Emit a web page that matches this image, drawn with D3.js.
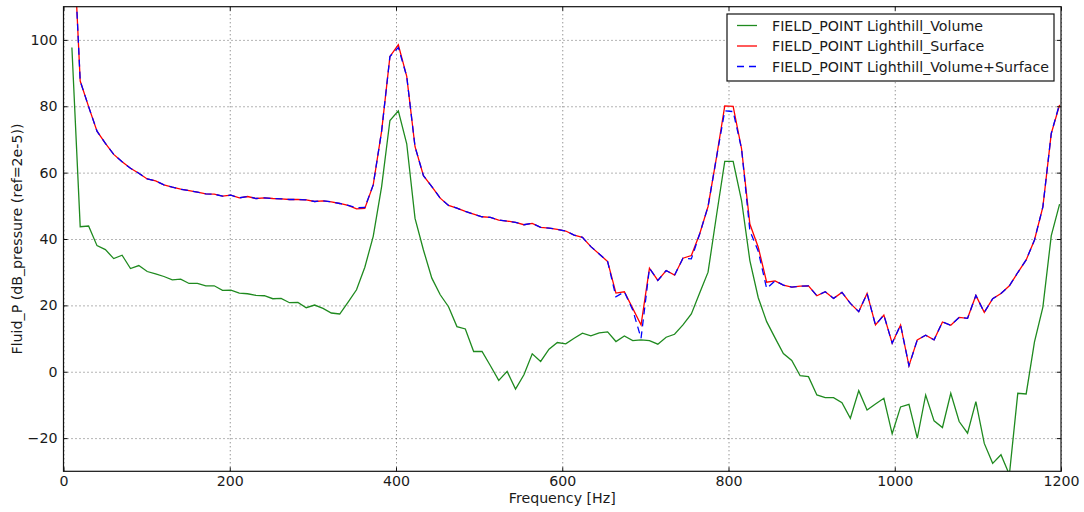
<!DOCTYPE html>
<html>
<head>
<meta charset="utf-8">
<script src="https://cdn.jsdelivr.net/npm/d3@7/dist/d3.min.js"></script>
<style>
  body { margin: 0; background: #ffffff; }
  text { font-family: "DejaVu Sans", sans-serif; fill: #1a1a1a; }
</style>
</head>
<body>
<div class="board"></div>
<script>
/*
=================================
DATA
=================================
*/
var frequency = [
  10.1, 20.1, 30.2, 40.3, 50.4, 60.4, 70.5, 80.6, 90.6, 100.7,
  110.8, 120.8, 130.9, 141.0, 151.1, 161.1, 171.2, 181.3, 191.3, 201.4,
  211.5, 221.5, 231.6, 241.7, 251.8, 261.8, 271.9, 282.0, 292.0, 302.1,
  312.2, 322.2, 332.3, 342.4, 352.5, 362.5, 372.6, 382.7, 392.7, 402.8,
  412.9, 422.9, 433.0, 443.1, 453.2, 463.2, 473.3, 483.4, 493.4, 503.5,
  513.6, 523.6, 533.7, 543.8, 553.9, 563.9, 574.0, 584.1, 594.1, 604.2,
  614.3, 624.3, 634.4, 644.5, 654.6, 664.6, 674.7, 684.8, 694.8, 704.9,
  715.0, 725.0, 735.1, 745.2, 755.3, 765.3, 775.4, 785.5, 795.5, 805.6,
  815.7, 825.7, 835.8, 845.9, 856.0, 866.0, 876.1, 886.2, 896.2, 906.3,
  916.4, 926.4, 936.5, 946.6, 956.7, 966.7, 976.8, 986.9, 996.9, 1007.0,
  1017.1, 1027.1, 1037.2, 1047.3, 1057.4, 1067.4, 1077.5, 1087.6, 1097.6, 1107.7,
  1117.8, 1127.8, 1137.9, 1148.0, 1158.1, 1168.1, 1178.2, 1188.3, 1198.3
];

var volume = [
  97.7, 43.7, 43.9, 38.0, 36.8, 34.1, 35.1, 31.1, 32.0, 30.2,
  29.5, 28.7, 27.7, 27.9, 26.6, 26.6, 25.9, 25.9, 24.5, 24.6,
  23.7, 23.5, 23.0, 22.9, 22.0, 22.1, 20.8, 20.9, 19.3, 20.1,
  19.1, 17.7, 17.4, 21.0, 24.7, 31.5, 40.8, 55.8, 75.7, 78.6,
  68.7, 46.2, 36.7, 28.2, 23.2, 19.6, 13.6, 12.9, 6.1, 6.1,
  1.8, -2.6, 0.1, -5.2, -0.9, 5.4, 3.1, 6.8, 8.8, 8.4,
  10.1, 11.6, 10.8, 11.7, 12.0, 9.1, 10.8, 9.4, 9.6, 9.4,
  8.3, 10.4, 11.3, 14.1, 17.4, 23.7, 30.0, 47.0, 63.4, 63.4,
  51.6, 33.5, 22.3, 15.1, 10.2, 5.5, 3.4, -1.2, -1.5, -7.0,
  -7.8, -7.8, -9.3, -14.0, -5.7, -11.5, -9.7, -8.0, -18.7, -10.6,
  -9.8, -20.0, -7.0, -14.8, -16.8, -6.5, -15.0, -18.5, -9.0, -21.6,
  -27.6, -25.0, -31.0, -6.5, -6.7, 9.0, 19.5, 41.0, 50.5
];

var surface = [
  141.0, 87.6, 79.9, 72.5, 68.8, 65.5, 63.3, 61.3, 59.8, 58.1,
  57.5, 56.3, 55.6, 55.0, 54.6, 54.1, 53.6, 53.5, 52.9, 53.2,
  52.4, 52.8, 52.2, 52.4, 52.2, 52.1, 51.9, 51.9, 51.8, 51.3,
  51.5, 51.2, 50.7, 50.1, 49.1, 49.2, 56.3, 72.5, 95.0, 98.5,
  89.0, 67.8, 59.1, 55.8, 52.3, 50.1, 49.3, 48.3, 47.5, 46.7,
  46.5, 45.7, 45.4, 45.0, 44.3, 44.7, 43.5, 43.3, 42.9, 42.4,
  41.2, 40.5, 37.7, 35.5, 33.2, 23.7, 24.1, 19.1, 14.1, 31.2,
  27.5, 30.5, 29.1, 34.2, 35.0, 41.5, 49.8, 64.5, 80.1, 80.0,
  67.2, 44.5, 37.5, 27.0, 27.4, 26.1, 25.5, 25.8, 25.9, 22.9,
  24.1, 22.1, 23.9, 20.6, 18.1, 23.6, 14.1, 17.1, 8.6, 14.1,
  1.8, 9.6, 11.0, 9.6, 15.0, 14.0, 16.4, 16.1, 23.0, 17.9,
  22.0, 23.6, 25.9, 29.9, 33.7, 39.7, 49.7, 71.8, 80.4
];

var volumeSurface = [
  141.0, 87.6, 79.9, 72.5, 68.8, 65.5, 63.3, 61.3, 59.8, 58.1,
  57.5, 56.3, 55.6, 55.0, 54.6, 54.1, 53.6, 53.5, 52.9, 53.2,
  52.4, 52.8, 52.2, 52.4, 52.2, 52.1, 51.9, 51.9, 51.8, 51.3,
  51.5, 51.2, 50.7, 50.1, 49.4, 49.5, 56.3, 72.5, 95.0, 97.7,
  89.0, 67.8, 59.1, 55.8, 52.3, 50.1, 49.3, 48.3, 47.5, 46.7,
  46.5, 45.7, 45.4, 45.0, 44.3, 44.7, 43.5, 43.3, 42.9, 42.4,
  41.2, 40.5, 37.7, 35.5, 33.2, 22.6, 24.1, 18.6, 10.1, 31.2,
  27.5, 30.5, 29.1, 34.2, 34.0, 41.5, 49.8, 64.5, 78.6, 78.4,
  67.2, 42.5, 36.3, 25.1, 27.4, 26.1, 25.5, 25.8, 25.9, 22.9,
  24.1, 22.1, 23.9, 20.6, 18.1, 23.6, 14.1, 17.1, 8.6, 14.1,
  1.8, 9.6, 11.0, 9.6, 15.0, 14.0, 16.4, 16.1, 23.0, 17.9,
  22.0, 23.6, 25.9, 29.9, 33.7, 39.7, 49.7, 71.8, 80.8
];

var seriesNames = [
  'FIELD_POINT Lighthill_Volume',
  'FIELD_POINT Lighthill_Surface',
  'FIELD_POINT Lighthill_Volume+Surface'
];
var seriesColors = ['#1f8a1f', '#ff0000', '#0000ff'];
var seriesDash = [null, null, '7,5'];

var xTicks = [0, 200, 400, 600, 800, 1000, 1200];
var yTicks = [-20, 0, 20, 40, 60, 80, 100];

/*
=================================
CREATE BACKGROUND CONTAINER
=================================
*/
var chartWidth = 1084, chartHeight = 512;
var plotLeft = 63.5, plotRight = 1061, plotTop = 6.7, plotBottom = 471.3;
var fontSize = 14.2;

var svg = d3.select('.board').append('svg')
            .attr('width', chartWidth)
            .attr('height', chartHeight);

var x = d3.scaleLinear().domain([0, 1200]).range([plotLeft, plotRight]);
var y = d3.scaleLinear().domain([-30, 110]).range([plotBottom, plotTop]);

var tickFmt = d3.format('d');

svg.append('clipPath').attr('id', 'plot-clip')
   .append('rect')
   .attr('x', plotLeft).attr('y', plotTop)
   .attr('width', plotRight - plotLeft).attr('height', plotBottom - plotTop);

// grid
svg.append('g')
   .attr('transform', 'translate(0,' + plotBottom + ')')
   .call(d3.axisBottom(x).tickValues(xTicks).tickSize(-(plotBottom - plotTop)).tickFormat(''))
   .call(g => g.select('.domain').remove())
   .selectAll('line')
   .attr('stroke', '#444')
   .attr('stroke-width', 0.8)
   .attr('stroke-dasharray', '1,3');

svg.append('g')
   .attr('transform', 'translate(' + plotLeft + ',0)')
   .call(d3.axisLeft(y).tickValues(yTicks).tickSize(-(plotRight - plotLeft)).tickFormat(''))
   .call(g => g.select('.domain').remove())
   .selectAll('line')
   .attr('stroke', '#444')
   .attr('stroke-width', 0.8)
   .attr('stroke-dasharray', '1,3');

/*
=================================
LINES
=================================
*/
var allSeries = [volume, surface, volumeSurface];

var line = d3.line()
             .x((d, i) => x(frequency[i]))
             .y(d => y(d));

var plot = svg.append('g').attr('clip-path', 'url(#plot-clip)');

allSeries.forEach(function(values, s) {
  plot.append('path')
      .datum(values)
      .attr('d', line)
      .attr('fill', 'none')
      .attr('stroke', seriesColors[s])
      .attr('stroke-width', 1.3)
      .attr('stroke-dasharray', seriesDash[s]);
});

/*
=================================
AXES
=================================
*/
svg.append('g')
   .attr('class', 'x-axis')
   .attr('transform', 'translate(0,' + plotBottom + ')')
   .call(d3.axisBottom(x).tickValues(xTicks).tickFormat(tickFmt)
           .tickSizeInner(-4).tickSizeOuter(0).tickPadding(5));

svg.append('g')
   .attr('class', 'y-axis')
   .attr('transform', 'translate(' + plotLeft + ',0)')
   .call(d3.axisLeft(y).tickValues(yTicks).tickFormat(tickFmt)
           .tickSizeInner(-4).tickSizeOuter(0).tickPadding(6));

svg.append('g')
   .attr('transform', 'translate(0,' + plotTop + ')')
   .call(d3.axisTop(x).tickValues(xTicks).tickSizeInner(-4).tickSizeOuter(0).tickFormat(''));

svg.append('g')
   .attr('transform', 'translate(' + plotRight + ',0)')
   .call(d3.axisRight(y).tickValues(yTicks).tickSizeInner(-4).tickSizeOuter(0).tickFormat(''));

svg.selectAll('.domain').remove();
svg.selectAll('.tick line').filter(function() { return !this.getAttribute('stroke-dasharray'); })
   .attr('stroke', '#111');
svg.selectAll('.tick text')
   .attr('font-size', fontSize)
   .attr('font-family', '"DejaVu Sans", sans-serif')
   .attr('fill', '#1a1a1a');

svg.append('rect')
   .attr('x', plotLeft).attr('y', plotTop)
   .attr('width', plotRight - plotLeft).attr('height', plotBottom - plotTop)
   .attr('fill', 'none')
   .attr('stroke', '#111')
   .attr('stroke-width', 1.2);

svg.append('text')
   .attr('x', (plotLeft + plotRight) / 2)
   .attr('y', 503)
   .attr('text-anchor', 'middle')
   .attr('font-size', fontSize)
   .text('Frequency [Hz]');

svg.append('text')
   .attr('transform', 'translate(22,' + ((plotTop + plotBottom) / 2) + ') rotate(-90)')
   .attr('text-anchor', 'middle')
   .attr('font-size', fontSize)
   .text('Fluid_P (dB_pressure (ref=2e-5))');

/*
=================================
LEGEND
=================================
*/
var legend = svg.append('g').attr('transform', 'translate(727,14)');

legend.append('rect')
      .attr('width', 327).attr('height', 67)
      .attr('fill', '#ffffff')
      .attr('stroke', '#111')
      .attr('stroke-width', 1.2);

seriesNames.forEach(function(name, s) {
  var row = 11.5 + s * 20.5;
  legend.append('line')
        .attr('x1', 10).attr('x2', 30)
        .attr('y1', row).attr('y2', row)
        .attr('stroke', seriesColors[s])
        .attr('stroke-width', 1.3)
        .attr('stroke-dasharray', seriesDash[s]);
  legend.append('text')
        .attr('x', 45)
        .attr('y', row + 5)
        .attr('font-size', fontSize)
        .text(name);
});
</script>
</body>
</html>
